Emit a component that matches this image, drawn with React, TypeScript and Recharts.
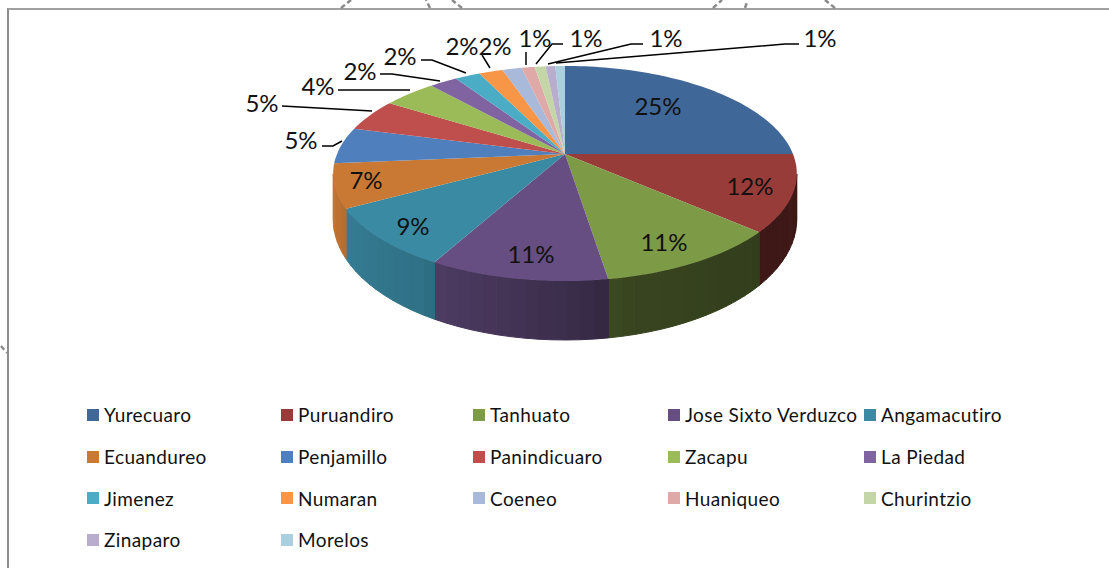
import { PieChart, Pie, Legend } from "recharts";

const names = [
  "Yurecuaro", "Puruandiro", "Tanhuato", "Jose Sixto Verduzco", "Angamacutiro",
  "Ecuandureo", "Penjamillo", "Panindicuaro", "Zacapu", "La Piedad",
  "Jimenez", "Numaran", "Coeneo", "Huaniqueo", "Churintzio",
  "Zinaparo", "Morelos",
];
const values = [25, 11.5, 11, 10.5, 9, 6.6, 5.49, 4.9, 4.4, 2.3, 2.1, 2.0, 1.6, 1.1, 0.9, 0.8, 0.8];
const colors = [
  "#3f6797", "#983c3a", "#7d9a46", "#664e82", "#3a8aa4",
  "#c97934", "#4f7fbc", "#bf4f4d", "#9bbb59", "#8064a2",
  "#4bacc6", "#f79646", "#a9b9d9", "#dfa9a8", "#c4d6a8",
  "#b8adcc", "#aacfdf",
];

const data = names.map((name, i) => ({ name, value: values[i], fill: colors[i] }));

// where each percent label sits, and its leader line if it has one
const labelSpots: { x: number; y: number; line?: number[][] }[] = [
  { x: 658, y: 105 },
  { x: 750, y: 185 },
  { x: 664, y: 241 },
  { x: 531, y: 253 },
  { x: 413, y: 225 },
  { x: 366, y: 179 },
  { x: 301, y: 139, line: [[322, 146], [333, 146], [342, 141]] },
  { x: 262, y: 102, line: [[282, 106], [372, 111]] },
  { x: 318, y: 85, line: [[338, 90], [410, 90]] },
  { x: 360, y: 70, line: [[380, 74], [392, 74], [440, 81]] },
  { x: 400, y: 55, line: [[421, 60], [432, 60], [466, 73]] },
  { x: 462, y: 45 },
  { x: 495, y: 45, line: [[482, 55], [490, 68]] },
  { x: 535, y: 37, line: [[526, 52], [526, 65]] },
  { x: 586, y: 37, line: [[563, 44], [552, 44], [536, 64]] },
  { x: 666, y: 37, line: [[643, 44], [631, 44], [548, 64]] },
  { x: 820, y: 37, line: [[799, 44], [785, 44], [556, 63]] },
];

// torn bits of the page frame poking out of the picture edge
const frameScraps = [
  [341, 8, 351, 0], [430, 8, 426, 0], [462, 8, 452, 0],
  [713, 8, 722, 0], [745, 8, 747, 2], [835, 8, 825, 0],
  [1, 346, 7, 353],
];

const FONT = "Lato, 'Open Sans', sans-serif";
const PERSP = 0.181;
const SQUASH = 104;
const WALL_FROM = 100.7;
const WALL_TO = 259.3;

// wall lighting by clockwise angle from the top
const wallLight = [[100, 0.4], [130, 0.4], [168, 0.45], [175, 0.55], [208, 0.76], [212, 0.82], [241, 0.9], [262, 1]];

const lightAt = (deg: number) => {
  for (let i = 1; i < wallLight.length; i++) {
    const [a0, l0] = wallLight[i - 1];
    const [a1, l1] = wallLight[i];
    if (deg <= a1) return l0 + ((l1 - l0) * (deg - a0)) / (a1 - a0);
  }
  return 1;
};

const shade = (hex: string, k: number) => {
  const n = parseInt(hex.slice(1), 16);
  const c = [(n >> 16) & 255, (n >> 8) & 255, n & 255].map((v) => Math.round(v * k));
  return `rgb(${c[0]},${c[1]},${c[2]})`;
};

// recharts gives angles counterclockwise from 3 o'clock, this tilts the circle in perspective
const project = (cx: number, cy: number, r: number, deg: number) => {
  const rad = (deg * Math.PI) / 180;
  const u = Math.sin(rad);
  const v = Math.cos(rad);
  const w = 1 + PERSP * v;
  return { x: cx + (r * u) / w, y: cy - (SQUASH * v) / w, v };
};

const Slice3D = (props: any) => {
  const { cx, cy, outerRadius, startAngle, endAngle, fill } = props;
  const from = 90 - startAngle;
  const to = 90 - endAngle;
  const steps = Math.max(2, Math.ceil((to - from) / 1.5));
  let top = `M${cx},${cy}`;
  for (let i = 0; i <= steps; i++) {
    const p = project(cx, cy, outerRadius, from + ((to - from) * i) / steps);
    top += `L${p.x.toFixed(1)},${p.y.toFixed(1)}`;
  }
  top += "Z";

  const walls = [];
  const a0 = Math.max(from, WALL_FROM);
  const a1 = Math.min(to, WALL_TO);
  if (a1 > a0) {
    const n = Math.ceil((a1 - a0) / 3);
    for (let i = 0; i < n; i++) {
      const s = a0 + ((a1 - a0) * i) / n;
      const e = a0 + ((a1 - a0) * (i + 1)) / n;
      const p = project(cx, cy, outerRadius, s);
      const q = project(cx, cy, outerRadius, e);
      const col = shade(fill, lightAt((s + e) / 2));
      walls.push(
        <path
          key={i}
          d={`M${p.x},${p.y}L${q.x},${q.y}L${q.x},${q.y + 42 - 17 * q.v}L${p.x},${p.y + 42 - 17 * p.v}Z`}
          fill={col}
          stroke={col}
          strokeWidth={1}
        />
      );
    }
  }
  return (
    <g>
      {walls}
      <path d={top} fill={fill} />
    </g>
  );
};

const PercentLabel = (props: any) => {
  const spot = labelSpots[props.index];
  if (!spot) return null;
  return (
    <g>
      {spot.line && (
        <polyline
          points={spot.line.map((p) => p.join(",")).join(" ")}
          fill="none"
          stroke="#000"
          strokeWidth={1.5}
        />
      )}
      <text
        x={spot.x}
        y={spot.y}
        textAnchor="middle"
        dominantBaseline="central"
        fontFamily={FONT}
        fontSize={24}
        fill="#111"
      >
        {`${Math.round(props.value)}%`}
      </text>
    </g>
  );
};

const LegendGrid = ({ payload }: any) => (
  <div
    style={{
      display: "grid",
      gridTemplateColumns: "194px 192px 195px 196px 160px",
      gridAutoRows: "41.7px",
      fontFamily: FONT,
      fontSize: 19,
      letterSpacing: 0.4,
      color: "#111",
    }}
  >
    {(payload || []).map((item: any) => (
      <div key={item.value} style={{ display: "flex", alignItems: "center", height: 41.7 }}>
        <span style={{ width: 12, height: 12, marginRight: 5, flex: "none", background: item.color }} />
        <span style={{ whiteSpace: "nowrap" }}>{item.value}</span>
      </div>
    ))}
  </div>
);

export default function App() {
  return (
    <div style={{ position: "absolute", left: 0, top: 0, width: 1109, height: 568, background: "#fff", overflow: "hidden" }}>
      <div style={{ position: "absolute", left: 7, top: 8, width: 1110, height: 570, borderLeft: "2px solid #8c8c8c", borderTop: "2px solid #a0a0a0" }} />
      <svg width={1109} height={568} style={{ position: "absolute", left: 0, top: 0 }}>
        {frameScraps.map((s, i) => (
          <line key={i} x1={s[0]} y1={s[1]} x2={s[2]} y2={s[3]} stroke="#8a8a8a" strokeWidth={2.5} strokeDasharray="5 3" />
        ))}
      </svg>
      <PieChart width={1109} height={568} margin={{ top: 0, right: 0, bottom: 0, left: 0 }}>
        <Pie
          data={data}
          dataKey="value"
          nameKey="name"
          cx={565}
          cy={154}
          outerRadius={228}
          startAngle={90}
          endAngle={-270}
          stroke="none"
          shape={Slice3D}
          label={PercentLabel}
          labelLine={false}
          isAnimationActive={false}
        />
        <Legend
          content={LegendGrid}
          itemSorter={null}
          wrapperStyle={{ position: "absolute", left: 87, top: 394, width: 1000 }}
        />
      </PieChart>
    </div>
  );
}
